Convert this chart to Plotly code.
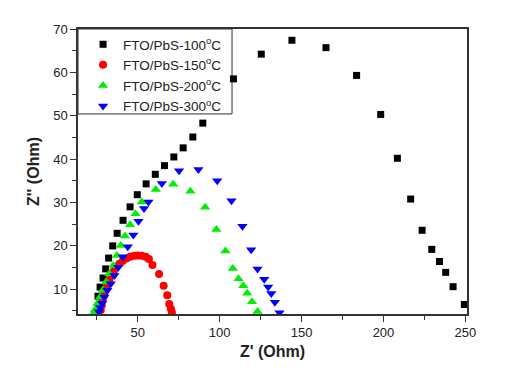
import plotly.graph_objects as go

# Nyquist data (Z' , Z'' in Ohm)
x_100 = [25.7, 27.0, 28.8, 30.4, 32.2, 34.7, 37.4, 41.0, 45.3, 49.7, 55.1, 60.7, 66.3, 72.0, 77.7,
         83.6, 89.7, 108.4, 125.4, 144.1, 164.9, 183.6, 198.3, 208.5, 216.6, 223.6, 229.5, 234.2,
         238.0, 242.5, 249.4]
y_100 = [8.4, 10.5, 12.6, 14.7, 17.2, 20.0, 22.9, 25.9, 29.0, 31.8, 34.3, 36.5, 38.5, 40.5, 42.6,
         45.1, 48.3, 58.5, 64.2, 67.4, 65.7, 59.3, 50.3, 40.2, 30.8, 23.6, 19.2, 16.4,
         13.9, 10.6, 6.5]

x_150 = [27.4, 28.0, 28.6, 29.4, 30.4, 31.4, 32.6, 34.0, 35.4, 37.0, 38.8, 40.8, 43.0, 45.4,
         47.8, 50.0, 52.4, 54.8, 56.8, 59.0, 63.0, 65.8, 68.0, 69.2, 70.2, 70.8]
y_150 = [5.2, 6.3, 7.5, 8.6, 9.8, 10.9, 12.1, 13.2, 14.2, 15.2, 15.9, 16.5, 17.1, 17.5,
         17.7, 17.8, 17.7, 17.5, 17.0, 15.6, 13.5, 10.8, 8.6, 6.6, 5.5, 4.7]

x_200 = [22.9, 23.9, 25.3, 27.0, 28.6, 30.6, 32.6, 35.1, 37.2, 39.6, 42.2, 45.3, 48.6, 52.4,
         61.0, 71.6, 82.1, 91.1, 98.0, 103.5, 108.0, 111.5, 114.4, 116.8, 119.7, 123.1]
y_200 = [4.4, 5.3, 6.7, 8.2, 9.8, 11.7, 13.6, 15.5, 17.8, 20.1, 22.3, 24.9, 27.4, 30.1,
         33.0, 34.2, 32.6, 28.9, 23.8, 18.8, 14.8, 12.4, 10.8, 9.1, 7.1, 4.9]

x_300 = [26.2, 27.0, 28.2, 29.6, 31.4, 33.5, 35.7, 38.1, 40.8, 43.9, 47.3, 50.4, 53.8, 56.5,
         64.7, 75.2, 87.0, 98.5, 107.2, 113.9, 119.2, 123.1, 127.2, 129.6, 131.5, 133.7, 136.5]
y_300 = [4.8, 5.8, 6.8, 8.2, 9.8, 11.3, 13.2, 15.1, 17.5, 19.8, 22.5, 25.7, 28.6, 30.1,
         34.4, 37.3, 37.6, 35.0, 30.4, 24.5, 19.1, 14.7, 12.3, 10.5, 9.0, 7.0, 4.6]

fig = go.Figure()
fig.add_trace(go.Scatter(x=x_100, y=y_100, mode="markers", name="FTO/PbS-100<sup>o</sup>C",
                         marker=dict(symbol="square", size=7, color="black")))
fig.add_trace(go.Scatter(x=x_150, y=y_150, mode="markers", name="FTO/PbS-150<sup>o</sup>C",
                         marker=dict(symbol="circle", size=8, color="#ff0000")))
fig.add_trace(go.Scatter(x=x_200, y=y_200, mode="markers", name="FTO/PbS-200<sup>o</sup>C",
                         marker=dict(symbol="triangle-up", size=9, color="#00ee00")))
fig.add_trace(go.Scatter(x=x_300, y=y_300, mode="markers", name="FTO/PbS-300<sup>o</sup>C",
                         marker=dict(symbol="triangle-down", size=9, color="#0000ff")))

# legend frame, drawn as a shape so the entries can sit a little further in
fig.add_shape(type="rect", xref="paper", yref="paper", x0=0, x1=0.396, y0=0.702, y1=1,
              line=dict(color="#333", width=1), fillcolor="white", layer="below")

axis_font = dict(family="Arial, Liberation Sans, sans-serif", size=16, color="#222")
fig.update_layout(
    width=510, height=363,
    margin=dict(l=70, r=51, t=21, b=57),
    paper_bgcolor="white", plot_bgcolor="white",
    font=dict(family="Arial, Liberation Sans, sans-serif", size=13, color="#222"),
    legend=dict(x=0.013, y=1.0, xanchor="left", yanchor="top",
                bgcolor="rgba(0,0,0,0)", borderwidth=0,
                font=dict(size=13.5), itemwidth=30, tracegroupgap=0),
    xaxis=dict(range=[13.5, 251], tickvals=[50, 100, 150, 200, 250],
               ticks="outside", ticklen=6, tickwidth=1.2, tickcolor="#333",
               minor=dict(tickvals=[25, 75, 125, 175, 225], ticks="outside", ticklen=4, tickcolor="#333"),
               showline=True, linecolor="#333", linewidth=1.5, mirror=True,
               showgrid=False, zeroline=False,
               title=dict(text="<b>Z' (Ohm)</b>", font=axis_font, standoff=6)),
    yaxis=dict(range=[4.3, 70], tickvals=[10, 20, 30, 40, 50, 60, 70],
               ticks="outside", ticklen=6, tickwidth=1.2, tickcolor="#333",
               minor=dict(tickvals=[5, 15, 25, 35, 45, 55, 65], ticks="outside", ticklen=4, tickcolor="#333"),
               showline=True, linecolor="#333", linewidth=1.5, mirror=True,
               showgrid=False, zeroline=False,
               title=dict(text="<b>Z'' (Ohm)</b>", font=axis_font, standoff=10)),
)

fig.write_html("out.html")
